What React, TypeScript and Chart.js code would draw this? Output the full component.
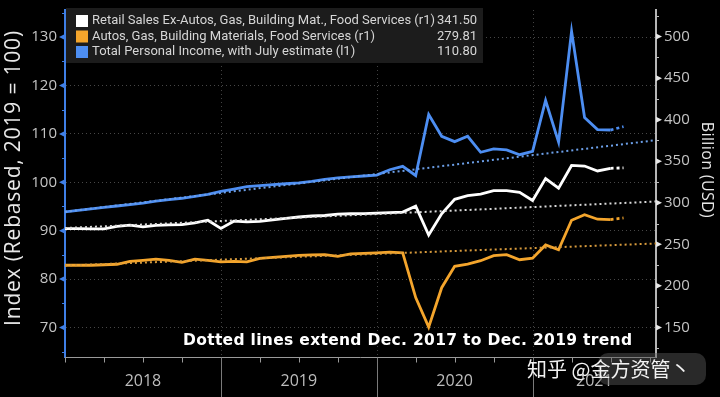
import React, { useEffect, useRef } from 'react';
import { Chart, registerables } from 'chart.js';

Chart.register(...registerables);

// Month-end observations, Dec 2017 .. Jul 2021 (last point = July estimate, drawn dotted)
const monthLabels = [
  'Dec 2017',
  'Jan 2018', 'Feb 2018', 'Mar 2018', 'Apr 2018', 'May 2018', 'Jun 2018',
  'Jul 2018', 'Aug 2018', 'Sep 2018', 'Oct 2018', 'Nov 2018', 'Dec 2018',
  'Jan 2019', 'Feb 2019', 'Mar 2019', 'Apr 2019', 'May 2019', 'Jun 2019',
  'Jul 2019', 'Aug 2019', 'Sep 2019', 'Oct 2019', 'Nov 2019', 'Dec 2019',
  'Jan 2020', 'Feb 2020', 'Mar 2020', 'Apr 2020', 'May 2020', 'Jun 2020',
  'Jul 2020', 'Aug 2020', 'Sep 2020', 'Oct 2020', 'Nov 2020', 'Dec 2020',
  'Jan 2021', 'Feb 2021', 'Mar 2021', 'Apr 2021', 'May 2021', 'Jun 2021',
  'Jul 2021',
];

// Total Personal Income, index (l1)
const personalIncome = [
  93.9, 94.2, 94.5, 94.8, 95.1, 95.4, 95.7, 96.1, 96.4, 96.7, 97.1, 97.5, 98.1,
  98.6, 99.1, 99.3, 99.5, 99.7, 99.9, 100.2, 100.6, 100.9, 101.1, 101.3, 101.5,
  102.6, 103.3, 101.4, 114.0, 109.5, 108.4, 109.5, 106.2, 106.9, 106.7, 105.7, 106.4,
  116.9, 108.3, 131.2, 113.4, 110.9, 110.8, 111.5,
];

// Retail Sales Ex-Autos, Gas, Building Mat., Food Services, billion USD (r1)
const retailEx = [
  269.0, 269.0, 268.7, 268.7, 271.6, 273.0, 271.0, 272.8, 273.4, 273.8, 275.8, 279.0, 269.2,
  277.8, 277.0, 277.6, 279.3, 281.1, 282.9, 284.1, 284.7, 286.4, 286.8, 287.0, 287.6,
  288.2, 288.8, 295.9, 261.2, 286.8, 304.2, 308.6, 310.5, 314.6, 314.6, 312.6, 302.7,
  329.2, 317.6, 344.9, 344.2, 338.3, 341.5, 342.0,
];

// Autos, Gas, Building Materials, Food Services, billion USD (r1)
const autosEtc = [
  224.8, 224.8, 224.8, 225.4, 226.0, 229.5, 230.7, 232.1, 230.7, 228.3, 232.2, 230.7, 228.9,
  229.5, 228.9, 233.1, 234.2, 235.4, 236.6, 237.2, 237.5, 235.4, 238.4, 239.0, 239.6,
  240.5, 239.8, 185.9, 150.4, 197.8, 223.6, 226.3, 230.3, 236.3, 237.5, 231.5, 233.4,
  249.3, 243.4, 278.9, 285.6, 280.2, 279.8, 281.8,
];

// Dec 2017 -> Dec 2019 trend lines, extended to the right edge [start, end]
const trendX = [0, 45.5];
const trendIncome = [93.9, 108.7];
const trendRetail = [269.6, 301.5];
const trendAutos = [224.5, 251.0];

const legendLabels = [
  'Retail Sales Ex-Autos, Gas, Building Mat., Food Services (r1)',
  'Autos, Gas, Building Materials, Food Services (r1)',
  'Total Personal Income, with July estimate (l1)',
];
const legendValues = ['341.50', '279.81', '110.80'];

const yearLabels = ['2018', '2019', '2020', '2021'];
const yearStarts = [0, 12, 24, 36];
const quarterTicks = [0, 3, 6, 9, 12, 15, 18, 21, 24, 27, 30, 33, 36, 39, 42, 45];
const leftMajor = [70, 80, 90, 100, 110, 120, 130];
const leftMinor = [65, 75, 85, 95, 105, 115, 125, 135];
const rightMajor = [150, 200, 250, 300, 350, 400, 450, 500];
const rightMinor = [125, 175, 225, 275, 325, 375, 425, 475, 525];

const leftTitle = 'Index (Rebased, 2019 = 100)';
const rightTitle = 'Billion (USD)';
const annotationText = 'Dotted lines extend Dec. 2017 to Dec. 2019 trend';
const watermarkText = '知乎 @金方资管丶';

const WHITE = '#ffffff';
const ORANGE = '#f4a52c';
const BLUE = '#4d8ef2';

const toPoints = (vals: number[]) => vals.map((v, i) => ({ x: i, y: v }));
const toTrend = (vals: number[]) => vals.map((v, i) => ({ x: trendX[i], y: v }));

const lastIdx = monthLabels.length - 1;
const dottedLast = {
  borderDash: (c: any) => (c.p1DataIndex === lastIdx ? [3, 3] : undefined),
};

function fitText(ctx: CanvasRenderingContext2D, text: string, target: number) {
  (ctx as any).letterSpacing = '0px';
  const w = ctx.measureText(text).width;
  const gap = (target - w) / Math.max(1, text.length - 1);
  (ctx as any).letterSpacing = `${gap.toFixed(2)}px`;
}

const decorPlugin = {
  id: 'decor',
  beforeDraw(chart: any) {
    const { ctx, width, height } = chart;
    ctx.save();
    ctx.fillStyle = '#000';
    ctx.fillRect(0, 0, width, height);
    ctx.restore();
  },
  beforeDatasetsDraw(chart: any) {
    const { ctx, chartArea, scales } = chart;
    const x = scales.x;
    ctx.save();
    ctx.strokeStyle = 'rgba(255,255,255,0.26)';
    ctx.lineWidth = 1;
    ctx.setLineDash([1, 3]);
    yearStarts.slice(1).forEach((v) => {
      const px = Math.round(x.getPixelForValue(v)) + 0.5;
      ctx.beginPath();
      ctx.moveTo(px, chartArea.top);
      ctx.lineTo(px, chartArea.bottom);
      ctx.stroke();
    });
    ctx.restore();
  },
  afterDraw(chart: any) {
    const { ctx, chartArea, scales, height } = chart;
    const x = scales.x;
    const yL = scales.y;
    const yR = scales.y1;
    ctx.save();

    // x axis line and quarter ticks
    const base = chartArea.bottom + 0.5;
    ctx.strokeStyle = '#9a9a9a';
    ctx.lineWidth = 1;
    ctx.beginPath();
    ctx.moveTo(chartArea.left, base);
    ctx.lineTo(chartArea.right, base);
    ctx.stroke();
    quarterTicks.forEach((q) => {
      const px = Math.round(x.getPixelForValue(q)) + 0.5;
      if (px > chartArea.right) return;
      ctx.beginPath();
      ctx.moveTo(px, base);
      ctx.lineTo(px, base + 5);
      ctx.stroke();
    });
    // year dividers
    ctx.strokeStyle = '#7a7a7a';
    yearStarts.slice(1).forEach((v) => {
      const px = Math.round(x.getPixelForValue(v)) + 0.5;
      ctx.beginPath();
      ctx.moveTo(px, base);
      ctx.lineTo(px, height);
      ctx.stroke();
    });
    // year labels centered on visible part of each year
    ctx.fillStyle = '#bdbdbd';
    ctx.font = '16px "Open Sans"';
    ctx.textAlign = 'center';
    ctx.textBaseline = 'middle';
    yearLabels.forEach((lab, i) => {
      const a = x.getPixelForValue(yearStarts[i]);
      const b = Math.min(x.getPixelForValue(yearStarts[i] + 12), chartArea.right);
      ctx.fillText(lab, (a + b) / 2, 381);
    });

    // left axis markers
    const lx = chartArea.left;
    ctx.fillStyle = '#3f7fe6';
    ctx.strokeStyle = '#3f7fe6';
    leftMajor.forEach((v) => {
      const py = yL.getPixelForValue(v);
      ctx.beginPath();
      ctx.moveTo(lx, py - 3);
      ctx.lineTo(lx, py + 3);
      ctx.lineTo(lx - 6, py);
      ctx.closePath();
      ctx.fill();
    });
    ctx.lineWidth = 1;
    leftMinor.forEach((v) => {
      const py = Math.round(yL.getPixelForValue(v)) + 0.5;
      if (py < chartArea.top || py > chartArea.bottom) return;
      ctx.beginPath();
      ctx.moveTo(lx, py);
      ctx.lineTo(lx - 3, py);
      ctx.stroke();
    });

    // right axis markers
    const rx = chartArea.right;
    ctx.fillStyle = '#e6e6e6';
    ctx.strokeStyle = '#bdbdbd';
    rightMajor.forEach((v) => {
      const py = yR.getPixelForValue(v);
      ctx.beginPath();
      ctx.moveTo(rx, py - 3);
      ctx.lineTo(rx, py + 3);
      ctx.lineTo(rx + 6, py);
      ctx.closePath();
      ctx.fill();
    });
    rightMinor.forEach((v) => {
      const py = Math.round(yR.getPixelForValue(v)) + 0.5;
      if (py < chartArea.top || py > chartArea.bottom) return;
      ctx.beginPath();
      ctx.moveTo(rx, py);
      ctx.lineTo(rx + 3, py);
      ctx.stroke();
    });

    // axis titles
    ctx.fillStyle = '#e8e8e8';
    ctx.textAlign = 'center';
    ctx.textBaseline = 'middle';
    ctx.save();
    ctx.translate(14, 178);
    ctx.rotate(-Math.PI / 2);
    ctx.font = '21px "Open Sans"';
    fitText(ctx, leftTitle, 295);
    ctx.fillText(leftTitle, 0, 0);
    ctx.restore();
    ctx.save();
    ctx.translate(707, 170);
    ctx.rotate(Math.PI / 2);
    ctx.font = '16px "Open Sans"';
    fitText(ctx, rightTitle, 96);
    ctx.fillText(rightTitle, 0, 0);
    ctx.restore();
    (ctx as any).letterSpacing = '0px';

    // legend box
    ctx.fillStyle = '#1c1c1c';
    ctx.fillRect(chartArea.left + 1, 8, 417, 55);
    const colors = [WHITE, ORANGE, BLUE];
    ctx.font = '13px Roboto';
    ctx.textBaseline = 'middle';
    legendLabels.forEach((lab, i) => {
      const cy = 21 + i * 15.5;
      ctx.fillStyle = colors[i];
      ctx.fillRect(76, cy - 6, 12, 12);
      ctx.fillStyle = '#d6d6d6';
      ctx.textAlign = 'left';
      ctx.fillText(lab, 92, cy);
      ctx.textAlign = 'right';
      ctx.fillText(legendValues[i], 477, cy);
    });

    // annotation
    ctx.fillStyle = '#ffffff';
    ctx.font = 'bold 15.5px "DejaVu Sans"';
    ctx.textAlign = 'left';
    ctx.textBaseline = 'middle';
    fitText(ctx, annotationText, 449);
    ctx.fillText(annotationText, 183, 341);
    (ctx as any).letterSpacing = '0px';

    // watermark
    ctx.fillStyle = 'rgba(90,90,90,0.45)';
    ctx.beginPath();
    (ctx as any).roundRect(598, 353, 108, 32, 10);
    ctx.fill();
    ctx.fillStyle = '#f2f2f2';
    ctx.font = '20px "Noto Sans CJK SC"';
    ctx.textAlign = 'left';
    ctx.fillText(watermarkText, 527, 369);

    ctx.restore();
  },
};

export default function App() {
  const ref = useRef<HTMLCanvasElement | null>(null);

  useEffect(() => {
    if (!ref.current) return;
    const chart = new Chart(ref.current, {
      type: 'line',
      data: {
        datasets: [
          {
            label: 'trendRetail',
            data: toTrend(trendRetail),
            yAxisID: 'y1',
            borderColor: '#d9d9d9',
            borderWidth: 2,
            borderDash: [2, 3],
            pointRadius: 0,
          },
          {
            label: 'trendAutos',
            data: toTrend(trendAutos),
            yAxisID: 'y1',
            borderColor: '#d79a3c',
            borderWidth: 2,
            borderDash: [2, 3],
            pointRadius: 0,
          },
          {
            label: 'trendIncome',
            data: toTrend(trendIncome),
            yAxisID: 'y',
            borderColor: '#6c9fe8',
            borderWidth: 2,
            borderDash: [2, 3],
            pointRadius: 0,
          },
          {
            label: legendLabels[0],
            data: toPoints(retailEx),
            yAxisID: 'y1',
            borderColor: WHITE,
            borderWidth: 2.8,
            pointRadius: 0,
            tension: 0,
            segment: dottedLast,
          },
          {
            label: legendLabels[1],
            data: toPoints(autosEtc),
            yAxisID: 'y1',
            borderColor: ORANGE,
            borderWidth: 2.8,
            pointRadius: 0,
            tension: 0,
            segment: dottedLast,
          },
          {
            label: legendLabels[2],
            data: toPoints(personalIncome),
            yAxisID: 'y',
            borderColor: BLUE,
            borderWidth: 2.8,
            pointRadius: 0,
            tension: 0,
            segment: dottedLast,
          },
        ],
      },
      options: {
        animation: false,
        responsive: false,
        maintainAspectRatio: false,
        layout: { padding: { top: 5, bottom: 40, left: 0, right: 0 } },
        plugins: {
          legend: { display: false },
          tooltip: { enabled: false },
        },
        scales: {
          x: {
            type: 'linear',
            min: 0,
            max: 45.5,
            display: false,
          },
          y: {
            position: 'left',
            min: 63.9,
            max: 135.6,
            afterFit: (s: any) => {
              s.width = 65;
            },
            ticks: {
              stepSize: 10,
              includeBounds: false,
              color: '#c4c4c4',
              font: { family: '"Open Sans"', size: 15 },
              padding: 1,
            },
            grid: {
              color: 'rgba(255,255,255,0.28)',
              tickColor: 'rgba(0,0,0,0)',
              tickLength: 7,
              lineWidth: 1,
            },
            border: { display: true, color: '#3f7fe6', width: 2, dash: [1, 3] },
          },
          y1: {
            position: 'right',
            min: 114.4,
            max: 532,
            afterFit: (s: any) => {
              s.width = 64;
            },
            ticks: {
              stepSize: 50,
              includeBounds: false,
              color: '#c4c4c4',
              font: { family: '"Open Sans"', size: 15 },
              padding: 1,
            },
            grid: {
              drawOnChartArea: false,
              tickColor: 'rgba(0,0,0,0)',
              tickLength: 7,
            },
            border: { display: true, color: '#b5b5b5', width: 2 },
          },
        },
      },
      plugins: [decorPlugin],
    });
    return () => chart.destroy();
  }, []);

  return (
    <div style={{ position: 'fixed', left: 0, top: 0, width: 720, height: 397, background: '#000' }}>
      <canvas ref={ref} width={720} height={397} style={{ display: 'block', width: 720, height: 397 }} />
    </div>
  );
}
